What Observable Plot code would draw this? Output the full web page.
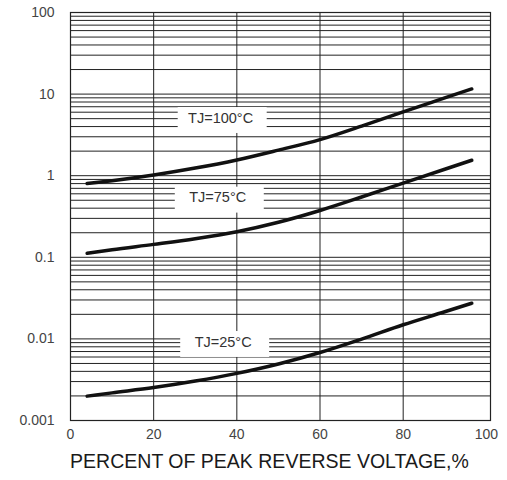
<!DOCTYPE html>
<html><head><meta charset="utf-8">
<script src="https://cdn.jsdelivr.net/npm/d3@7"></script>
<script src="https://cdn.jsdelivr.net/npm/@observablehq/plot@0.6"></script>
<style>
body{margin:0;background:#fff}
#chart svg{font-family:"Liberation Sans",Arial,sans-serif;background:#fff}
</style>
</head><body><div id="chart"></div>
<script>
// Data
const voltagePct = [4, 10, 20, 30, 40, 50, 60, 70, 80, 90, 96.5];
const leak100 = [0.80, 0.867, 1.02, 1.24, 1.56, 2.06, 2.77, 4.06, 6.07, 8.97, 11.56];
const leak75 = [0.112, 0.124, 0.144, 0.169, 0.206, 0.269, 0.375, 0.548, 0.811, 1.20, 1.545];
const leak25 = [0.00199, 0.00218, 0.00253, 0.00304, 0.00378, 0.00493, 0.00681, 0.00995, 0.0149, 0.0215, 0.0274];
const seriesNames = ["TJ=100°C", "TJ=75°C", "TJ=25°C"];
const labelX = [36.1, 35.4, 36.7];
const labelY = [5.07, 0.536, 0.00912];
const xTicks = [0, 20, 40, 60, 80, 100];
const yTicks = [0.001, 0.01, 0.1, 1, 10, 100];
const xTitle = "PERCENT OF PEAK REVERSE VOLTAGE,%";

const seriesValues = [leak100, leak75, leak25];
const curves = seriesNames.flatMap((name, i) =>
  voltagePct.map((v, j) => ({series: name, x: v, y: seriesValues[i][j]})));
const labels = seriesNames.map((name, i) => ({text: name, x: labelX[i], y: labelY[i]}));
const minorGrid = [];
yTicks.slice(0, -1).forEach(d => { for (let k = 1; k <= 9; k++) minorGrid.push(d * k); });
minorGrid.push(yTicks[yTicks.length - 1]);

const chart = Plot.plot({
  width: 507,
  height: 480,
  marginLeft: 70,
  marginRight: 17,
  marginTop: 12,
  marginBottom: 60,
  style: {fontSize: "14px", color: "#444", background: "#fff"},
  x: {domain: [0, 101], ticks: xTicks, tickSize: 0, tickPadding: 9, label: null},
  y: {type: "log", domain: [0.001, 100], ticks: yTicks, tickFormat: d => String(d),
      tickSize: 0, tickPadding: 16, label: null},
  marks: [
    Plot.ruleY(minorGrid, {stroke: "#222", strokeWidth: 1}),
    Plot.ruleX(xTicks.slice(0, -1), {stroke: "#222", strokeWidth: 1}),
    Plot.rect(labels, {x1: d => d.x - 10.2, x2: d => d.x + 11.2,
      y1: d => d.y / 1.54, y2: d => d.y * 1.35, fill: "white"}),
    Plot.line(curves, {x: "x", y: "y", z: "series", curve: "monotone-x",
      stroke: "#111", strokeWidth: 3.5}),
    Plot.text(labels, {x: "x", y: "y", text: "text", fontSize: 14.5, fill: "#333"}),
    Plot.frame({stroke: "#222", strokeWidth: 1.2}),
    Plot.text([xTitle], {frameAnchor: "bottom", dy: 47, dx: -11, fontSize: 19.5, fill: "#1a1a1a"})
  ]
});
document.getElementById("chart").append(chart);
</script>
</body></html>
